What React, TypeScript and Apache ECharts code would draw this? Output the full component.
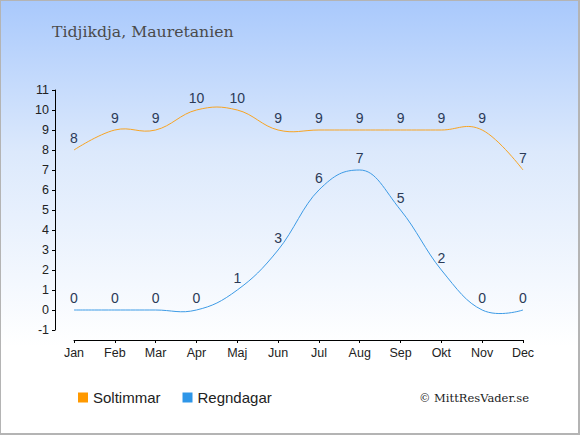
import React, { useEffect, useRef } from "react";
import * as echarts from "echarts";

const months = ["Jan", "Feb", "Mar", "Apr", "Maj", "Jun", "Jul", "Aug", "Sep", "Okt", "Nov", "Dec"];
const soltimmar = [8, 9, 9, 10, 10, 9, 9, 9, 9, 9, 9, 7];
const regndagar = [0, 0, 0, 0, 1, 3, 6, 7, 5, 2, 0, 0];
const titleText = "Tidjikdja, Mauretanien";
const creditText = "© MittResVader.se";

// Cardinal-style spline (smoothing 1.5) through pixel points, tangents parallel to neighbour chords,
// flattened at strict local extremes
function splinePath(pts: number[][]): string {
  const n = pts.length;
  const sm = 1.5;
  const den = sm + 1;
  const left: number[][] = [];
  const right: number[][] = [];
  for (let i = 0; i < n; i++) {
    const [x, y] = pts[i];
    if (i === 0 || i === n - 1) {
      left.push([x, y]);
      right.push([x, y]);
      continue;
    }
    const [lx, ly] = pts[i - 1];
    const [nx, ny] = pts[i + 1];
    const lcx = (sm * x + lx) / den;
    let lcy = (sm * y + ly) / den;
    const rcx = (sm * x + nx) / den;
    let rcy = (sm * y + ny) / den;
    let corr = 0;
    if (rcx !== lcx) {
      corr = ((rcy - lcy) * (rcx - x)) / (rcx - lcx) + y - rcy;
    }
    lcy += corr;
    rcy += corr;
    if ((y - ly) * (y - ny) > 1e-6) {
      lcy = y;
      rcy = y;
    }
    left.push([lcx, lcy]);
    right.push([rcx, rcy]);
  }
  let d = `M${pts[0][0]},${pts[0][1]}`;
  for (let i = 1; i < n; i++) {
    const a = right[i - 1];
    const b = left[i];
    d += ` C${a[0]},${a[1]} ${b[0]},${b[1]} ${pts[i][0]},${pts[i][1]}`;
  }
  return d;
}

function curveSeries(name: string, values: number[], color: string) {
  return {
    name,
    type: "custom",
    data: [[0, values[0]]],
    silent: true,
    z: 3,
    renderItem: (_params: any, api: any) => {
      const pts = values.map((v, i) => api.coord([i, v]));
      return {
        type: "path",
        shape: { pathData: splinePath(pts) },
        style: { fill: "none", stroke: color, lineWidth: 1 },
      };
    },
  };
}

export default function App() {
  const ref = useRef<HTMLDivElement>(null);
  useEffect(() => {
    document.body.style.margin = "0";
    const chart = echarts.init(ref.current!, null, { renderer: "svg" });
    const labelStyle = {
      show: true,
      position: "top",
      distance: 5,
      color: "#2b3a57",
      fontSize: 14,
      fontFamily: "Liberation Sans, Arial, sans-serif",
    };
    chart.setOption({
      animation: false,
      title: {
        text: titleText,
        left: 46,
        top: 17,
        textStyle: {
          fontFamily: "DejaVu Serif, serif",
          fontWeight: "normal",
          fontSize: 15.7,
          color: "#4a4a4a",
        },
      },
      legend: {
        left: 72,
        top: 384,
        itemWidth: 10,
        itemHeight: 10,
        itemGap: 22,
        icon: "rect",
        textStyle: {
          fontFamily: "Liberation Sans, Arial, sans-serif",
          fontSize: 15,
          color: "#222",
        },
        data: [
          { name: "Soltimmar", itemStyle: { color: "#ff9900" } },
          { name: "Regndagar", itemStyle: { color: "#2e96e8" } },
        ],
      },
      graphic: [
        {
          type: "text",
          right: 49,
          top: 391,
          style: {
            text: creditText,
            fontFamily: "DejaVu Serif, serif",
            fontSize: 11.5,
            fill: "#222",
          },
        },
      ],
      grid: { left: 73, right: 55, top: 89, bottom: 103 },
      xAxis: {
        type: "category",
        data: months,
        boundaryGap: false,
        offset: 10,
        axisLine: { onZero: false, lineStyle: { color: "#000", width: 1 } },
        axisTick: { alignWithLabel: true, length: 3, lineStyle: { color: "#000" } },
        axisLabel: {
          color: "#222",
          fontSize: 12.5,
          margin: 6,
          fontFamily: "Liberation Sans, Arial, sans-serif",
        },
      },
      yAxis: {
        type: "value",
        min: -1,
        max: 11,
        interval: 1,
        offset: 19,
        splitLine: { show: false },
        axisLine: { show: true, lineStyle: { color: "#000", width: 1 } },
        axisTick: { show: true, length: 3, lineStyle: { color: "#000" } },
        axisLabel: {
          color: "#222",
          fontSize: 12.5,
          margin: 6,
          fontFamily: "Liberation Sans, Arial, sans-serif",
        },
      },
      series: [
        {
          name: "Soltimmar",
          type: "line",
          data: soltimmar,
          symbol: "circle",
          symbolSize: 0,
          showSymbol: true,
          lineStyle: { opacity: 0, width: 0 },
          itemStyle: { color: "#ff9900" },
          label: labelStyle,
          z: 4,
        },
        {
          name: "Regndagar",
          type: "line",
          data: regndagar,
          symbol: "circle",
          symbolSize: 0,
          showSymbol: true,
          lineStyle: { opacity: 0, width: 0 },
          itemStyle: { color: "#2e96e8" },
          label: labelStyle,
          z: 4,
        },
        curveSeries("Soltimmar", soltimmar, "#f8a423"),
        curveSeries("Regndagar", regndagar, "#3d9be6"),
      ],
    });
    return () => chart.dispose();
  }, []);
  return (
    <div
      style={{
        width: 580,
        height: 435,
        boxSizing: "border-box",
        borderTop: "1px solid #b4b4b4",
        borderLeft: "1px solid #b4b4b4",
        borderRight: "2px solid #b4b4b4",
        borderBottom: "2px solid #b4b4b4",
        background: "linear-gradient(to bottom, #a9c9fc 0%, #dce9fc 35%, #ffffff 80%, #ffffff 100%)",
        overflow: "hidden",
      }}
    >
      <div ref={ref} style={{ width: 577, height: 432 }} />
    </div>
  );
}
